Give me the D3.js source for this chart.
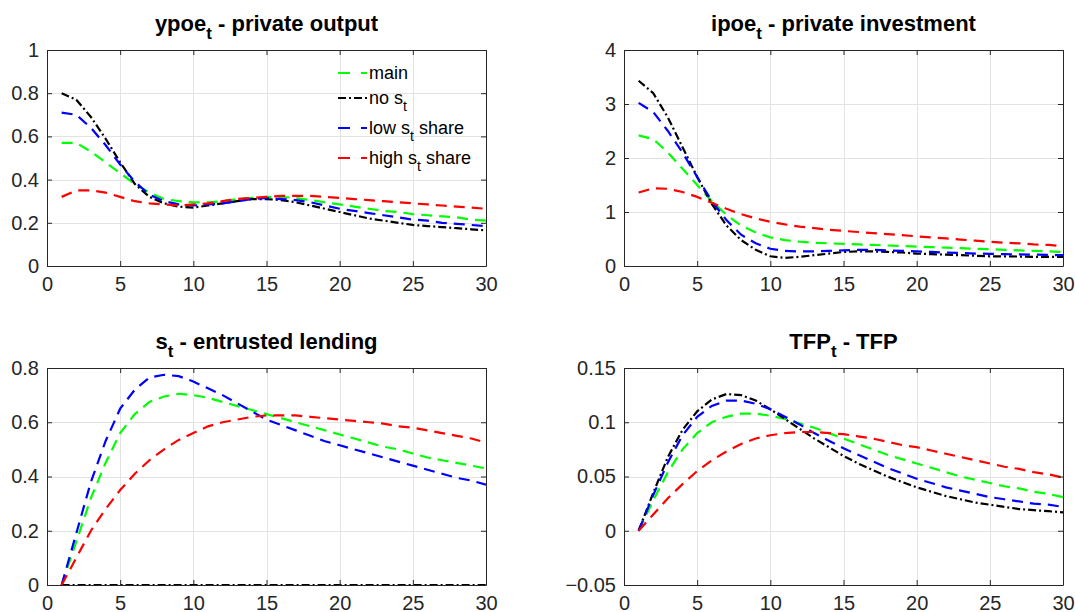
<!DOCTYPE html>
<head>
  <meta charset="utf-8">
  <style>
    body { margin: 0; background: #fff; }
    text { font-family: "Liberation Sans", Arial, Helvetica, sans-serif; }
  </style>
</head>
<body>
<script src="https://cdnjs.cloudflare.com/ajax/libs/d3/7.8.5/d3.min.js"></script>
<script>

// horizon 1..30
var periods = d3.range(1, 31);

// ypoe - private output
var ypoeMain = [0.57,0.57,0.53,0.48,0.43,0.38,0.34,0.31,0.30,0.295,0.295,0.30,0.31,0.315,0.32,0.32,0.315,0.305,0.295,0.285,0.275,0.265,0.255,0.25,0.24,0.235,0.23,0.225,0.215,0.21];
var ypoeNoS  = [0.80,0.77,0.69,0.59,0.48,0.38,0.32,0.29,0.275,0.27,0.28,0.29,0.30,0.31,0.31,0.305,0.295,0.28,0.265,0.25,0.235,0.22,0.21,0.20,0.19,0.185,0.18,0.175,0.17,0.165];
var ypoeLow  = [0.71,0.70,0.64,0.56,0.47,0.39,0.33,0.30,0.285,0.28,0.285,0.29,0.30,0.31,0.315,0.31,0.305,0.295,0.28,0.265,0.255,0.245,0.235,0.225,0.215,0.21,0.20,0.195,0.19,0.185];
var ypoeHigh = [0.32,0.35,0.35,0.34,0.32,0.30,0.29,0.285,0.28,0.285,0.29,0.30,0.31,0.315,0.32,0.325,0.325,0.325,0.32,0.315,0.31,0.305,0.30,0.295,0.29,0.285,0.28,0.275,0.27,0.265];

// ipoe - private investment
var ipoeMain = [2.42,2.35,2.10,1.80,1.50,1.20,0.95,0.75,0.62,0.53,0.48,0.45,0.43,0.42,0.41,0.40,0.39,0.38,0.37,0.36,0.35,0.34,0.33,0.32,0.31,0.30,0.29,0.28,0.27,0.26];
var ipoeNoS  = [3.43,3.20,2.75,2.20,1.65,1.15,0.75,0.48,0.30,0.18,0.15,0.17,0.20,0.23,0.26,0.27,0.27,0.26,0.25,0.23,0.22,0.21,0.20,0.19,0.18,0.18,0.175,0.17,0.17,0.17];
var ipoeLow  = [3.02,2.85,2.50,2.10,1.65,1.20,0.85,0.58,0.42,0.32,0.28,0.27,0.27,0.28,0.29,0.30,0.30,0.29,0.28,0.27,0.26,0.25,0.24,0.23,0.225,0.22,0.215,0.21,0.205,0.20];
var ipoeHigh = [1.36,1.44,1.43,1.37,1.28,1.17,1.06,0.96,0.88,0.82,0.77,0.73,0.70,0.67,0.65,0.63,0.61,0.59,0.57,0.55,0.53,0.51,0.49,0.47,0.45,0.43,0.42,0.40,0.39,0.37];

// s - entrusted lending
var sMain = [0,0.16,0.32,0.45,0.56,0.63,0.675,0.695,0.705,0.70,0.69,0.675,0.66,0.645,0.63,0.615,0.60,0.585,0.57,0.555,0.54,0.525,0.51,0.50,0.485,0.47,0.46,0.45,0.44,0.43];
var sNoS  = [0,0,0,0,0,0,0,0,0,0,0,0,0,0,0,0,0,0,0,0,0,0,0,0,0,0,0,0,0,0];
var sLow  = [0,0.19,0.38,0.53,0.65,0.72,0.765,0.775,0.77,0.75,0.725,0.70,0.67,0.64,0.61,0.59,0.57,0.55,0.53,0.515,0.50,0.485,0.47,0.455,0.44,0.425,0.41,0.395,0.385,0.37];
var sHigh = [0,0.10,0.20,0.28,0.35,0.41,0.46,0.50,0.535,0.56,0.585,0.60,0.61,0.62,0.625,0.625,0.625,0.62,0.615,0.61,0.605,0.60,0.595,0.585,0.58,0.57,0.56,0.55,0.54,0.525];

// TFP
var tfpMain = [0,0.028,0.054,0.075,0.090,0.100,0.105,0.108,0.108,0.106,0.103,0.099,0.095,0.090,0.085,0.080,0.075,0.070,0.066,0.062,0.058,0.054,0.050,0.047,0.044,0.041,0.039,0.036,0.034,0.031];
var tfpNoS  = [0,0.035,0.068,0.093,0.110,0.121,0.126,0.125,0.120,0.112,0.103,0.094,0.085,0.077,0.069,0.062,0.056,0.050,0.045,0.040,0.036,0.032,0.029,0.026,0.024,0.022,0.020,0.019,0.018,0.017];
var tfpLow  = [0,0.033,0.063,0.088,0.105,0.115,0.120,0.120,0.117,0.112,0.105,0.098,0.090,0.083,0.076,0.070,0.064,0.058,0.053,0.048,0.044,0.040,0.037,0.034,0.031,0.029,0.027,0.025,0.024,0.022];
var tfpHigh = [0,0.015,0.030,0.043,0.055,0.065,0.073,0.080,0.085,0.088,0.090,0.091,0.091,0.090,0.089,0.087,0.085,0.082,0.079,0.077,0.074,0.071,0.068,0.065,0.062,0.059,0.057,0.054,0.052,0.049];

// ticks
var xTicks = [0,5,10,15,20,25,30];
var ypoeTicks = [0,0.2,0.4,0.6,0.8,1];
var ipoeTicks = [0,1,2,3,4];
var sTicks = [0,0.2,0.4,0.6,0.8];
var tfpTicks = [-0.05,0,0.05,0.1,0.15];

// series labels (name, subscript, rest)
var seriesNames = [["main","",""],["no s","t",""],["low s","t"," share"],["high s","t"," share"]];
var seriesColors = ["#00ff00","#000000","#0000ff","#ff0000"];
var seriesDash = ["11,7","11,7","11,7","11,7"];
var noSDash = "8,3,2,3";

var W = 1075, H = 612;
var svg = d3.select("body").append("svg")
    .attr("width", W)
    .attr("height", H);

var panels = [
  {title: ["ypoe","t"," - private output"], x0: 47, x1: 486, y0: 50, y1: 266, dom: [0,1], ticks: ypoeTicks, data: [ypoeMain, ypoeNoS, ypoeLow, ypoeHigh], legend: true},
  {title: ["ipoe","t"," - private investment"], x0: 624, x1: 1063, y0: 50, y1: 266, dom: [0,4], ticks: ipoeTicks, data: [ipoeMain, ipoeNoS, ipoeLow, ipoeHigh]},
  {title: ["s","t"," - entrusted lending"], x0: 47, x1: 486, y0: 368, y1: 585, dom: [0,0.8], ticks: sTicks, data: [sMain, sNoS, sLow, sHigh]},
  {title: ["TFP","t"," - TFP"], x0: 624, x1: 1063, y0: 368, y1: 585, dom: [-0.05,0.15], ticks: tfpTicks, data: [tfpMain, tfpNoS, tfpLow, tfpHigh]}
];

panels.forEach(function(p, pi) {
  var x = d3.scaleLinear().domain([0,30]).range([p.x0, p.x1]);
  var y = d3.scaleLinear().domain(p.dom).range([p.y1, p.y0]);
  var g = svg.append("g");

  // grid
  g.selectAll(".gx").data(xTicks.slice(1, -1)).enter().append("line")
      .attr("x1", function(d) { return Math.round(x(d)) + 0.5; })
      .attr("x2", function(d) { return Math.round(x(d)) + 0.5; })
      .attr("y1", p.y0).attr("y2", p.y1)
      .attr("stroke", "#e3e3e3").attr("stroke-width", 1);
  g.selectAll(".gy").data(p.ticks.slice(1, -1)).enter().append("line")
      .attr("y1", function(d) { return Math.round(y(d)) + 0.5; })
      .attr("y2", function(d) { return Math.round(y(d)) + 0.5; })
      .attr("x1", p.x0).attr("x2", p.x1)
      .attr("stroke", "#e3e3e3").attr("stroke-width", 1);

  // clip
  svg.append("clipPath").attr("id", "clip" + pi)
    .append("rect").attr("x", p.x0).attr("y", p.y0 - 1)
    .attr("width", p.x1 - p.x0).attr("height", p.y1 - p.y0 + 2);

  var line = d3.line()
      .x(function(d, i) { return x(periods[i]); })
      .y(function(d) { return y(d); });

  p.data.forEach(function(series, si) {
    g.append("path")
      .attr("d", line(series))
      .attr("clip-path", "url(#clip" + pi + ")")
      .attr("fill", "none")
      .attr("stroke", seriesColors[si])
      .attr("stroke-width", 2.2)
      .attr("stroke-dasharray", si == 1 ? noSDash : seriesDash[si]);
  });

  // box axes with inward ticks
  var xAxisB = d3.axisBottom(x).tickValues(xTicks).tickSizeInner(-5).tickSizeOuter(0).tickPadding(11);
  var xAxisT = d3.axisTop(x).tickValues(xTicks).tickSizeInner(-5).tickSizeOuter(0).tickFormat("");
  var yAxisL = d3.axisLeft(y).tickValues(p.ticks).tickSizeInner(-5).tickSizeOuter(0).tickPadding(8)
      .tickFormat(function(d) { return d3.format("")(+d.toFixed(2)); });
  var yAxisR = d3.axisRight(y).tickValues(p.ticks).tickSizeInner(-5).tickSizeOuter(0).tickFormat("");

  [[xAxisB, "translate(0," + p.y1 + ")"], [xAxisT, "translate(0," + p.y0 + ")"],
   [yAxisL, "translate(" + p.x0 + ",0)"], [yAxisR, "translate(" + p.x1 + ",0)"]].forEach(function(a) {
    var ag = g.append("g").attr("transform", a[1]).call(a[0]);
    ag.select(".domain").attr("stroke", "#262626");
    ag.selectAll(".tick line").attr("stroke", "#262626");
    ag.selectAll("text").attr("fill", "#262626")
      .style("font-size", "20px")
      .style("font-family", "'Liberation Sans', Arial, sans-serif");
  });

  // title
  var t = svg.append("text")
      .attr("x", (p.x0 + p.x1) / 2)
      .attr("y", p.y0 - 19)
      .attr("text-anchor", "middle")
      .style("font-size", "22px")
      .style("font-weight", "bold")
      .attr("fill", "#000");
  t.append("tspan").text(p.title[0]);
  t.append("tspan").attr("dy", 8).style("font-size", "17px").text(p.title[1]);
  t.append("tspan").attr("dy", -8).text(p.title[2]);

  if (p.legend) {
    var rows = [73, 98, 128, 158];
    seriesNames.forEach(function(nm, si) {
      g.append("line")
        .attr("x1", 338).attr("x2", 367)
        .attr("y1", rows[si]).attr("y2", rows[si])
        .attr("stroke", seriesColors[si])
        .attr("stroke-width", 2.2)
        .attr("stroke-dasharray", si == 1 ? noSDash : "12,11");
      var lt = g.append("text")
        .attr("x", 369).attr("y", rows[si] + 6)
        .style("font-size", "18px")
        .attr("fill", "#000");
      lt.append("tspan").text(nm[0]);
      if (nm[1]) {
        lt.append("tspan").attr("dy", 7).style("font-size", "14px").text(nm[1]);
        lt.append("tspan").attr("dy", -7).text(nm[2]);
      }
    });
  }
});

</script>
</body>
